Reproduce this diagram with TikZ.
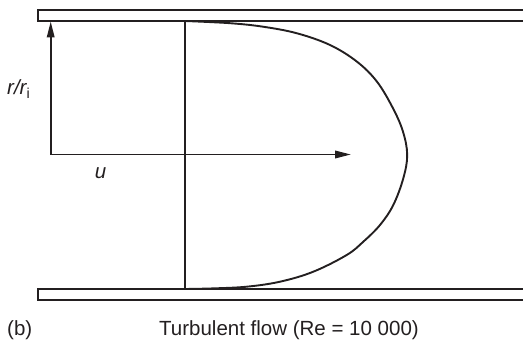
\documentclass[tikz,border=0pt]{standalone}
\usepackage{fontspec}
\setmainfont{Liberation Sans}
\usetikzlibrary{arrows.meta}
\definecolor{ink}{HTML}{231F20}
\tikzset{
  wall/.style={draw=ink, line width=1.3pt},
  axisline/.style={draw=ink, line width=1.9pt, line join=miter, >={Triangle[length=16pt, width=7.5pt]}},
  profile/.style={draw=ink, line width=1.9pt, line join=round},
  vline/.style={draw=ink, line width=1.5pt},
  lbl/.style={text=ink, inner sep=0pt, font=\fontsize{20.5}{24}\selectfont}
}
\begin{document}
\begin{tikzpicture}[x=1pt, y=-1pt]
\useasboundingbox (0,0) rectangle (523,342);
% walls
\draw[wall] (523,10) -- (38,10) -- (38,21) -- (523,21);
\draw[wall] (523,289) -- (38,289) -- (38,300) -- (523,300);
% coordinates
\coordinate (o) at (50.7,154.5);
\coordinate (ytip) at (50.7,21.5);
\coordinate (xtip) at (351,154.5);
\coordinate (vtop) at (185,21);
\coordinate (vbot) at (185,289);
% axes
\draw[axisline, <->] (ytip) -- (o) -- (xtip);
% vertical reference line
\draw[vline] (vtop) -- (vbot);
% velocity profile
\draw[profile] plot[smooth, tension=0.6] coordinates {
  (185,21) (230,23.2) (263,26.7) (297,33.3) (330,45) (357,61.7) (377,81.7)
  (393,108.3) (403,131.7) (407.2,155) (403.3,178.3)
  (393.3,205) (380,225) (363.3,241.7) (346.7,255) (313.3,271.7) (280,281.7)
  (246.7,286.7) (213,288.4) (185,289)};
% labels
\node[lbl, anchor=base west] (rlab) at (7,95) {\itshape r/r\textsubscript{\upshape i}};
\node[lbl, anchor=base] (ulab) at (100.5,179) {\itshape u};
\node[lbl, anchor=base west] (blab) at (7,335) {(b)};
\node[lbl, anchor=base] (title) at (289,335) {Turbulent flow (Re = 10 000)};
\end{tikzpicture}
\end{document}
